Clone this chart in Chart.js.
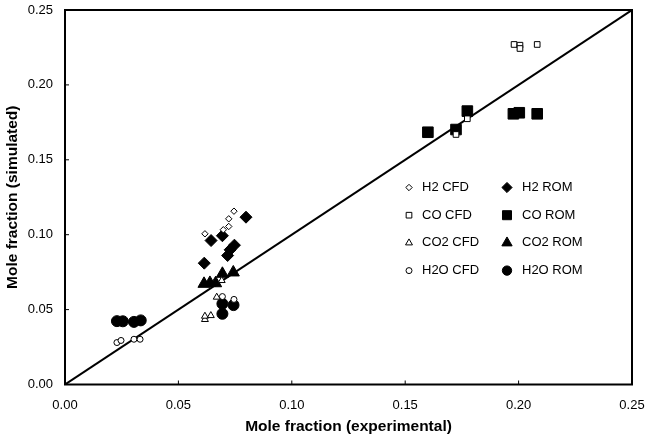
<!DOCTYPE html>
<html>
<head>
<meta charset="utf-8">
<script src="https://cdn.jsdelivr.net/npm/chart.js@4.4.1/dist/chart.umd.min.js"></script>
<style>
html, body { margin: 0; padding: 0; background: #fff; }
#wrap { width: 645px; height: 443px; }
</style>
</head>
<body>
<div id="wrap"><canvas id="chartParity"></canvas></div>
<script>
/* values: x = experimental, y = simulated */
var h2CfdX = [0.0617, 0.0698, 0.0722, 0.0722, 0.0745];
var h2CfdY = [0.1006, 0.1033, 0.1055, 0.1106, 0.1157];
var h2RomX = [0.0614, 0.0644, 0.0694, 0.0717, 0.0728, 0.0747, 0.0798];
var h2RomY = [0.0810, 0.0961, 0.0993, 0.0861, 0.0899, 0.0930, 0.1117];
var coCfdX = [0.1724, 0.1774, 0.1980, 0.2006, 0.2006, 0.2082];
var coCfdY = [0.1669, 0.1774, 0.2270, 0.2265, 0.2243, 0.2270];
var coRomX = [0.1600, 0.1724, 0.1774, 0.1977, 0.2003, 0.2082];
var coRomY = [0.1684, 0.1702, 0.1825, 0.1807, 0.1814, 0.1807];
var co2CfdX = [0.0617, 0.0617, 0.0643, 0.0669, 0.0691];
var co2CfdY = [0.0434, 0.0456, 0.0460, 0.0583, 0.0694];
var co2RomX = [0.0613, 0.0639, 0.0664, 0.0694, 0.0742];
var co2RomY = [0.0672, 0.0678, 0.0676, 0.0739, 0.0748];
var h2oCfdX = [0.0229, 0.0247, 0.0304, 0.0331, 0.0694, 0.0745];
var h2oCfdY = [0.0280, 0.0294, 0.0302, 0.0302, 0.0587, 0.0568];
var h2oRomX = [0.0229, 0.0255, 0.0304, 0.0334, 0.0694, 0.0694, 0.0743];
var h2oRomY = [0.0423, 0.0422, 0.0418, 0.0428, 0.0539, 0.0472, 0.0530];
var parityX = [0, 0.25];
var parityY = [0, 0.25];
var axisTicks = [0, 0.05, 0.10, 0.15, 0.20, 0.25];

function pts(xs, ys) {
    return xs.map(function (x, i) { return {x: x, y: ys[i]}; });
}

function openSet(label, xs, ys, style, r) {
    return {
        label: label, data: pts(xs, ys), pointStyle: style, pointRadius: r,
        backgroundColor: '#fff', borderColor: '#000', borderWidth: 1, showLine: false
    };
}
function filledSet(label, xs, ys, style, r) {
    return {
        label: label, data: pts(xs, ys), pointStyle: style, pointRadius: r,
        backgroundColor: '#000', borderColor: '#000', borderWidth: 1, showLine: false
    };
}

Chart.defaults.font.family = '"Liberation Sans", Arial, sans-serif';
Chart.defaults.font.size = 13;
Chart.defaults.color = '#000';

// legend drawn inside the plot, 2 columns
var legendOrder = [0, 4, 1, 5, 2, 6, 3, 7];
var innerLegend = {
    id: 'innerLegend',
    afterDraw: function (chart) {
        var ctx = chart.ctx, area = chart.chartArea;
        ctx.save();
        ctx.font = '13px "Liberation Sans", Arial, sans-serif';
        ctx.fillStyle = '#000';
        ctx.textBaseline = 'middle';
        legendOrder.forEach(function (idx, k) {
            var ds = chart.data.datasets[idx];
            var col = k % 2, row = Math.floor(k / 2);
            var sx = area.left + 344 + col * 98;
            var y = area.top + 177.5 + row * 27.7;
            ctx.fillStyle = ds.backgroundColor;
            ctx.strokeStyle = ds.borderColor;
            ctx.lineWidth = 1;
            var r = ds.backgroundColor === '#000' ? ds.pointRadius * 0.85 : ds.pointRadius;
            Chart.helpers.drawPoint(ctx, {pointStyle: ds.pointStyle, radius: r, borderWidth: 1}, sx, y);
            ctx.fillStyle = '#000';
            ctx.fillText(ds.label, sx + 13 + col * 2, y);
        });
        ctx.restore();
    }
};

// box around the plot and inward tick marks
var frameTicks = {
    id: 'frameTicks',
    afterDatasetsDraw: function (chart) {
        var ctx = chart.ctx, a = chart.chartArea;
        var xs = chart.scales.x, ys = chart.scales.y;
        ctx.save();
        ctx.strokeStyle = '#000';
        ctx.lineWidth = 1;
        ctx.beginPath();
        axisTicks.forEach(function (v) {
            var px = xs.getPixelForValue(v), py = ys.getPixelForValue(v);
            ctx.moveTo(px, a.bottom); ctx.lineTo(px, a.bottom - 4);
            ctx.moveTo(a.left, py); ctx.lineTo(a.left + 4, py);
        });
        ctx.stroke();
        ctx.lineWidth = 2;
        ctx.strokeRect(a.left, a.top, a.right - a.left, a.bottom - a.top);
        ctx.restore();
    }
};

var chartParity = document.getElementById('chartParity').getContext('2d');
new Chart(chartParity, {
    type: 'scatter',
    data: {
        datasets: [
            openSet('H2 CFD', h2CfdX, h2CfdY, 'rectRot', 3.2),
            openSet('CO CFD', coCfdX, coCfdY, 'rect', 4),
            openSet('CO2 CFD', co2CfdX, co2CfdY, 'triangle', 4),
            openSet('H2O CFD', h2oCfdX, h2oCfdY, 'circle', 3),
            filledSet('H2 ROM', h2RomX, h2RomY, 'rectRot', 6),
            filledSet('CO ROM', coRomX, coRomY, 'rect', 7.5),
            filledSet('CO2 ROM', co2RomX, co2RomY, 'triangle', 7),
            filledSet('H2O ROM', h2oRomX, h2oRomY, 'circle', 5.5),
            {
                label: 'parity', data: pts(parityX, parityY), type: 'line',
                borderColor: '#000', borderWidth: 2, pointRadius: 0, fill: false
            }
        ]
    },
    options: {
        animation: false,
        responsive: true,
        maintainAspectRatio: false,
        layout: {padding: {top: 10, right: 13, left: 0, bottom: 0}},
        plugins: {
            legend: {display: false},
            tooltip: {enabled: false}
        },
        scales: {
            x: {
                type: 'linear', min: 0, max: 0.25,
                afterFit: function (s) { s.height = 58.5; s.paddingLeft = 0; s.paddingRight = 0; },
                afterBuildTicks: function (s) { s.ticks = axisTicks.map(function (v) { return {value: v}; }); },
                grid: {display: false, drawTicks: false},
                border: {display: false},
                ticks: {padding: 13, callback: function (v) { return v.toFixed(2); }},
                title: {display: true, text: 'Mole fraction (experimental)', font: {size: 15.5, weight: 'bold'}, padding: {top: 0, bottom: 6.5}}
            },
            y: {
                type: 'linear', min: 0, max: 0.25,
                afterFit: function (s) { s.width = 65; s.paddingTop = 0; s.paddingBottom = 0; },
                afterBuildTicks: function (s) { s.ticks = axisTicks.map(function (v) { return {value: v}; }); },
                grid: {display: false, drawTicks: false},
                border: {display: false},
                ticks: {padding: 12, callback: function (v) { return v.toFixed(2); }},
                title: {display: true, text: 'Mole fraction (simulated)', font: {size: 15.5, weight: 'bold'}, padding: {top: 3, bottom: 0}}
            }
        }
    },
    plugins: [frameTicks, innerLegend]
});
</script>
</body>
</html>
